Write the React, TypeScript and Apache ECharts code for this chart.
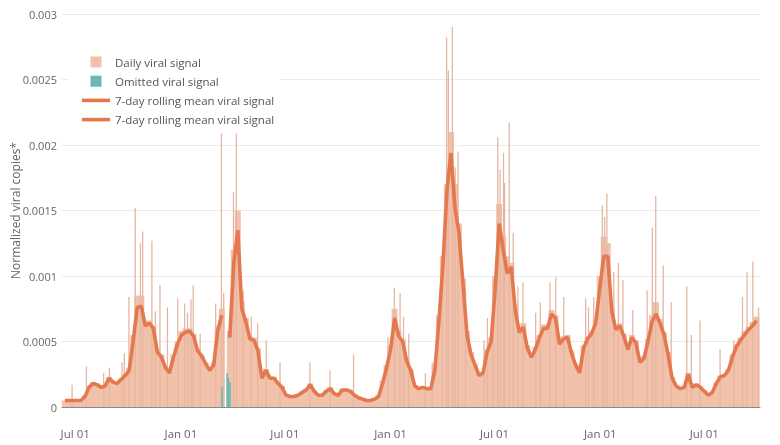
import React, { useEffect, useRef } from "react";
import * as echarts from "echarts";

// ---------- data (values in units of 1e-4 normalized viral copies) ----------
const WEEK_START = "2020-06-13"; // first weekly reading, one reading every 7 days
const rollingMeanE4: (number | null)[] = [
  0.5, 0.5, 0.5, 0.5, 0.5, 0.8, 1.5, 1.8, 1.7, 1.5,
  1.6, 2.2, 1.9, 1.8, 2.1, 2.4, 2.8, 5.1, 7.6, 7.7,
  6.2, 6.4, 6.0, 4.2, 3.8, 3.0, 2.6, 3.8, 4.8, 5.5,
  5.7, 5.8, 5.4, 4.3, 3.9, 3.3, 2.8, 3.2, 5.8, 7.0,
  null, 5.3, 11.0, 13.5, 7.5, 6.5, 5.2, 5.1, 4.3, 2.2,
  2.8, 2.2, 2.2, 1.8, 1.5, 0.9, 0.8, 0.8, 0.9, 1.1,
  1.3, 1.7, 1.2, 0.9, 0.9, 1.2, 1.4, 1.0, 0.9, 1.3,
  1.3, 1.2, 0.9, 0.7, 0.6, 0.5, 0.5, 0.6, 0.8, 1.8,
  3.0, 4.4, 6.8, 5.4, 5.0, 3.5, 2.8, 1.6, 1.4, 1.5,
  1.4, 1.4, 2.8, 6.5, 10.8, 16.5, 19.4, 15.2, 13.3, 9.4,
  5.5, 4.0, 3.2, 2.4, 2.6, 4.2, 5.0, 9.0, 14.0, 12.0,
  10.2, 10.7, 7.4, 5.7, 6.1, 4.5, 3.8, 4.4, 5.3, 6.0,
  6.0, 7.1, 6.8, 4.8, 5.2, 5.3, 4.1, 3.2, 2.6, 4.5,
  5.2, 5.6, 6.4, 9.0, 11.5, 11.5, 7.3, 5.9, 6.2, 5.4,
  4.4, 5.3, 4.9, 3.4, 3.7, 5.0, 6.5, 7.1, 6.4, 5.5,
  4.0, 2.2, 1.6, 1.4, 1.5, 2.5, 1.5, 1.7, 1.5, 1.2,
  0.9, 1.1, 1.8, 2.3, 2.4, 2.8, 3.8, 4.6, 5.1, 5.5,
  5.9, 6.2, 6.6,
];
const dailyWeeklyE4: (number | null)[] = [
  0.5, 0.5, 0.5, 0.5, 0.5, 0.9, 1.6, 1.9, 1.8, 1.6,
  1.7, 2.3, 2.0, 1.9, 2.2, 2.5, 3.0, 5.5, 8.5, 8.5,
  6.5, 6.6, 6.2, 4.4, 4.0, 3.1, 2.7, 4.0, 5.0, 5.8,
  6.0, 6.0, 5.6, 4.5, 4.0, 3.4, 2.9, 3.4, 6.2, 7.5,
  null, 5.8, 12.0, 15.0, 8.0, 6.8, 5.4, 5.3, 4.5, 2.3,
  2.9, 2.3, 2.3, 1.9, 1.6, 1.0, 0.9, 0.9, 1.0, 1.2,
  1.4, 1.8, 1.3, 1.0, 1.0, 1.3, 1.5, 1.1, 1.0, 1.4,
  1.4, 1.3, 1.0, 0.8, 0.7, 0.6, 0.6, 0.7, 0.9, 2.0,
  3.2, 4.7, 7.5, 5.8, 5.2, 3.7, 2.9, 1.7, 1.5, 1.6,
  1.5, 1.5, 3.0, 7.0, 11.5, 17.0, 21.0, 17.0, 14.0, 9.8,
  5.8, 4.2, 3.3, 2.5, 2.7, 4.4, 5.3, 10.0, 15.5, 13.0,
  11.5, 11.0, 7.8, 6.0, 6.4, 4.7, 4.0, 4.6, 5.5, 6.3,
  6.3, 7.4, 7.0, 5.0, 5.4, 5.5, 4.3, 3.3, 2.7, 4.7,
  5.4, 5.8, 6.7, 10.0, 13.0, 12.5, 7.6, 6.1, 6.4, 5.6,
  4.6, 5.5, 5.1, 3.5, 3.9, 5.2, 7.0, 8.0, 6.7, 5.7,
  4.2, 2.3, 1.7, 1.5, 1.6, 2.6, 1.6, 1.8, 1.6, 1.3,
  1.0, 1.2, 1.9, 2.4, 2.5, 2.9, 4.0, 4.8, 5.3, 5.8,
  6.1, 6.5, 6.9,
];
const dailySpikesE4: [string, number][] = [
  ["2020-06-25", 1.7], ["2020-07-20", 3.1], ["2020-08-19", 2.6], ["2020-08-29", 3.0],
  ["2020-09-20", 3.4], ["2020-09-24", 4.1], ["2020-10-02", 8.4], ["2020-10-13", 15.2],
  ["2020-10-22", 12.5], ["2020-10-26", 13.4], ["2020-11-11", 12.7], ["2020-11-17", 7.3],
  ["2020-11-25", 9.3], ["2020-12-08", 7.6], ["2020-12-26", 8.3], ["2021-01-07", 7.9],
  ["2021-01-12", 7.2], ["2021-01-18", 8.2], ["2021-01-22", 9.3], ["2021-02-03", 5.6],
  ["2021-03-02", 7.9], ["2021-03-12", 21.1], ["2021-03-16", 8.7], ["2021-04-02", 16.4],
  ["2021-04-07", 21.1], ["2021-04-19", 8.9], ["2021-05-03", 6.9], ["2021-05-14", 6.4],
  ["2021-05-29", 5.1], ["2021-06-22", 3.4], ["2021-08-13", 3.4], ["2021-09-17", 2.8],
  ["2021-10-28", 4.0], ["2021-12-27", 5.3], ["2022-01-07", 9.1], ["2022-01-17", 8.7],
  ["2022-01-23", 6.9], ["2022-02-01", 5.6], ["2022-03-02", 2.6], ["2022-03-14", 3.4],
  ["2022-03-31", 11.0], ["2022-04-08", 28.2], ["2022-04-11", 25.7], ["2022-04-18", 29.0],
  ["2022-04-23", 18.3], ["2022-04-28", 19.5], ["2022-05-11", 8.9], ["2022-06-12", 5.1],
  ["2022-06-18", 6.8], ["2022-06-28", 9.7], ["2022-07-06", 20.6], ["2022-07-10", 18.1],
  ["2022-07-16", 19.4], ["2022-07-18", 17.1], ["2022-07-26", 21.7], ["2022-08-02", 13.3],
  ["2022-08-10", 9.2], ["2022-08-19", 9.5], ["2022-09-10", 7.2], ["2022-09-18", 8.0],
  ["2022-10-05", 9.5], ["2022-10-15", 9.9], ["2022-10-29", 8.4], ["2022-12-06", 8.3],
  ["2022-12-11", 7.6], ["2022-12-20", 8.4], ["2023-01-04", 15.4], ["2023-01-08", 14.5],
  ["2023-01-12", 16.3], ["2023-01-24", 10.3], ["2023-02-01", 11.0], ["2023-02-09", 9.7],
  ["2023-02-26", 7.4], ["2023-03-23", 8.9], ["2023-04-01", 13.7], ["2023-04-07", 16.1],
  ["2023-04-20", 10.8], ["2023-05-04", 8.0], ["2023-05-31", 9.2], ["2023-06-08", 5.5],
  ["2023-06-23", 6.6], ["2023-07-28", 4.4], ["2023-08-21", 5.1], ["2023-09-05", 8.4],
  ["2023-09-13", 10.3], ["2023-09-23", 11.1], ["2023-10-03", 7.6],
];
const omittedE4: [string, number][] = [
  ["2021-03-13", 1.5], ["2021-03-22", 2.6], ["2021-03-24", 2.2], ["2021-03-27", 1.9],
];
const xTickDates = ["2020-07-01", "2021-01-01", "2021-07-01", "2022-01-01", "2022-07-01", "2023-01-01", "2023-07-01"];
const xTickLabels = ["Jul 01", "Jan 01", "Jul 01", "Jan 01", "Jul 01", "Jan 01", "Jul 01"];
const X_MIN = "2020-06-08";
const X_MAX = "2023-10-06";
const Y_MAX = 0.003;
const Y_STEP = 0.0005;

const NAME_DAILY = "Daily viral signal";
const NAME_OMIT = "Omitted viral signal";
const NAME_MEAN1 = "7-day rolling mean viral signal";
const NAME_MEAN2 = "7-day rolling mean viral signal (2)";

// ---------------------------------------------------------------------------
const DAY = 86400000;
const ts = (s: string) => Date.parse(s + "T00:00:00Z");
const E4 = 1e-4;

export default function App() {
  const ref = useRef<HTMLDivElement>(null);
  useEffect(() => {
    if (!ref.current) return;
    const chart = echarts.init(ref.current, null, { renderer: "svg" });
    const start = ts(WEEK_START);
    const weekDate = (k: number) => start + k * 7 * DAY;
    const gapIdx = rollingMeanE4.indexOf(null);
    const meanPts = rollingMeanE4.map((v, k) => [weekDate(k), v == null ? null : v * E4]);
    const mean1 = meanPts.slice(0, gapIdx);
    const mean2 = meanPts.slice(gapIdx + 1);
    const dailyBase = dailyWeeklyE4
      .map((v, k) => [weekDate(k), v == null ? null : v * E4])
      .filter((p) => p[1] != null);
    const spikes = dailySpikesE4.map(([d, v]) => [ts(d) + DAY / 2, v * E4]);
    const omitted = omittedE4.map(([d, v]) => [ts(d) + DAY / 2, v * E4]);
    const tickTs = xTickDates.map(ts);

    const font = "'Open Sans', 'Noto Sans', sans-serif";
    const fill = "#f2c1aa";
    const lineColor = "#e4784f";
    const teal = "#6bb8b2";

    const xBase = {
      type: "value" as const,
      min: ts(X_MIN),
      max: ts(X_MAX),
      scale: true,
    };

    chart.setOption({
      animation: false,
      textStyle: { fontFamily: font },
      grid: { left: 62, right: 20, top: 14, bottom: 38, outerBoundsMode: "none", containLabel: false },
      legend: {
        orient: "vertical",
        left: 68,
        top: 48,
        padding: [8, 6, 8, 14],
        backgroundColor: "#ffffff",
        itemWidth: 28,
        itemHeight: 11,
        itemGap: 7.2,
        textStyle: { fontSize: 11.5, color: "#555", fontFamily: font },
        formatter: (n: string) => n.replace(/ \(2\)$/, ""),
        data: [
          { name: NAME_DAILY, icon: "path://M0,0H10V10H0Z" },
          { name: NAME_OMIT, icon: "path://M0,0H10V10H0Z" },
          { name: NAME_MEAN1, icon: "path://M0,0H28V3.6H0Z" },
          { name: NAME_MEAN2, icon: "path://M0,0H28V3.6H0Z" },
        ],
      },
      xAxis: [
        {
          ...xBase,
          axisLine: { show: true, lineStyle: { color: "#8a8a8a", width: 1 } },
          axisTick: { show: false },
          splitLine: { show: false },
          axisLabel: {
            customValues: tickTs,
            formatter: (v: number) => {
              const i = tickTs.indexOf(v);
              return i >= 0 ? xTickLabels[i] : "";
            },
            align: "center",
            color: "#666",
            fontSize: 11.5,
            margin: 20,
            fontFamily: font,
          },
        },
        { ...xBase, show: false },
        { ...xBase, show: false },
      ],
      yAxis: {
        type: "value",
        min: 0,
        max: Y_MAX,
        interval: Y_STEP,
        name: "Normalized viral copies*",
        nameLocation: "middle",
        nameGap: 41,
        nameMoveOverlap: false,
        nameTextStyle: { color: "#666", fontSize: 12, fontFamily: font },
        axisLine: { show: false },
        axisTick: { show: false },
        splitLine: { lineStyle: { color: "#ebebeb", width: 1 } },
        axisLabel: {
          color: "#666",
          fontSize: 11,
          margin: 5,
          fontFamily: font,
          formatter: (v: number) => String(+v.toFixed(4)),
        },
      },
      series: [
        {
          name: NAME_DAILY,
          type: "bar",
          xAxisIndex: 0,
          data: dailyBase,
          barWidth: 6,
          itemStyle: { color: fill },
          z: 1,
        },
        {
          name: NAME_DAILY,
          type: "bar",
          xAxisIndex: 1,
          data: spikes,
          barWidth: 1.3,
          itemStyle: { color: "#e6b6a2" },
          z: 1,
        },
        {
          name: NAME_OMIT,
          type: "bar",
          xAxisIndex: 2,
          data: omitted,
          barWidth: 1.6,
          itemStyle: { color: teal },
          z: 2,
        },
        {
          name: NAME_MEAN1,
          type: "line",
          data: mean1,
          showSymbol: false,
          lineStyle: { color: lineColor, width: 3.6 },
          itemStyle: { color: lineColor },
          z: 3,
        },
        {
          name: NAME_MEAN2,
          type: "line",
          data: mean2,
          showSymbol: false,
          lineStyle: { color: lineColor, width: 3.6 },
          itemStyle: { color: lineColor },
          z: 3,
        },
      ],
    });
    return () => chart.dispose();
  }, []);
  return (
    <div
      ref={ref}
      style={{ position: "fixed", left: 0, top: 0, width: 780, height: 445 }}
    />
  );
}
